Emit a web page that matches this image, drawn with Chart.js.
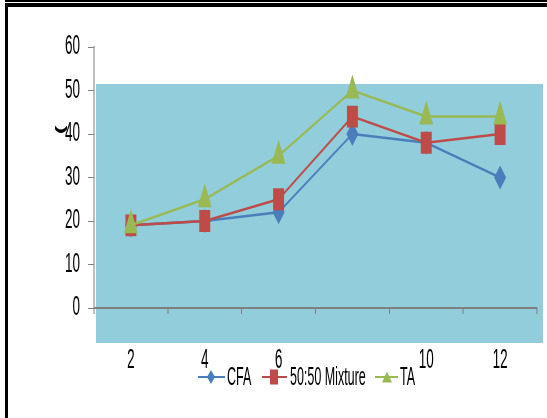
<!DOCTYPE html>
<html>
<head>
<meta charset="utf-8">
<script src="https://cdn.jsdelivr.net/npm/chart.js@4/dist/chart.umd.min.js"></script>
<style>
  html, body { margin: 0; padding: 0; background: #fff; }
  #frame { position: relative; width: 547px; height: 418px; overflow: hidden; background: #fff; }
  /* the chart is laid out twice as wide and squeezed back horizontally */
  #wrap { position: absolute; left: 0; top: 0; width: 1094px; height: 418px; transform: scaleX(0.5); transform-origin: 0 0; }
  .rule { position: absolute; background: #000; }
</style>
</head>
<body>
<div id="frame">
  <div id="wrap"><canvas id="c" width="1094" height="418"></canvas></div>
  <div class="rule" style="left:5px;top:0;width:542px;height:2px"></div>
  <div class="rule" style="left:5px;top:3px;width:542px;height:4px"></div>
  <div class="rule" style="left:5px;top:3px;width:3px;height:415px"></div>
</div>
<script>
// x categories
const weeks = ['2', '4', '6', '8', '10', '12'];
// series values
const cfa = [19, 20, 22, 40, 38, 30];
const mixture = [19, 20, 25, 44, 38, 40];
const ta = [19, 25, 35, 50, 44, 44];
// y axis range
const yMin = 0, yMax = 60, yStep = 10;
const yTitle = '(';

const SX = 0.5;               // horizontal squeeze applied by CSS
const px = v => v / SX;       // screen x -> canvas x

const colors = { cfa: '#4A7EBB', mix: '#BE4B48', ta: '#98B954' };
const FONT = "'Liberation Sans', Arial, sans-serif";

Chart.defaults.font.family = FONT;

const backdrop = {
  id: 'backdrop',
  beforeDraw(chart) {
    const { ctx, chartArea: a, scales: { y } } = chart;
    const top = y.getPixelForValue(51.5);
    ctx.save();
    ctx.fillStyle = '#92CDDC';
    ctx.fillRect(a.left + 4, top, (a.right + 12) - (a.left + 4), (a.bottom + 35) - top);
    ctx.restore();
  }
};

function marker(ctx, style, x, y, w, h, color) {
  ctx.fillStyle = color;
  ctx.beginPath();
  if (style === 'rect') {
    ctx.rect(x - w / 2, y - h / 2, w, h);
  } else if (style === 'rectRot') {
    ctx.moveTo(x, y - h / 2); ctx.lineTo(x + w / 2, y);
    ctx.lineTo(x, y + h / 2); ctx.lineTo(x - w / 2, y);
    ctx.closePath();
  } else {
    ctx.moveTo(x, y - h / 2); ctx.lineTo(x + w / 2, y + h / 2);
    ctx.lineTo(x - w / 2, y + h / 2); ctx.closePath();
  }
  ctx.fill();
}

const keyLegend = {
  id: 'keyLegend',
  afterDraw(chart) {
    const { ctx } = chart;
    const y = 377;
    const items = [
      { i: 0, from: 198, to: 225, at: 211, text: 227, w: 8, h: 14 },
      { i: 1, from: 262, to: 287, at: 274, text: 290, w: 8, h: 15 },
      { i: 2, from: 375, to: 398, at: 387, text: 400, w: 10, h: 11 }
    ];
    ctx.save();
    ctx.font = "25px " + FONT;
    ctx.textBaseline = 'middle';
    items.forEach(it => {
      const ds = chart.data.datasets[it.i];
      const tw = ctx.measureText(ds.label).width;
      ctx.fillStyle = '#fff';
      ctx.fillRect(px(it.text) - 2, 345, tw + 4, 46);
      ctx.strokeStyle = ds.borderColor;
      ctx.lineWidth = 2;
      ctx.beginPath();
      ctx.moveTo(px(it.from), y); ctx.lineTo(px(it.to), y);
      ctx.stroke();
      marker(ctx, ds.pointStyle, px(it.at), y, px(it.w), it.h, ds.backgroundColor);
      ctx.fillStyle = '#000';
      ctx.fillText(ds.label, px(it.text), y + 1);
    });
    // y axis title
    ctx.translate(px(61), 130);
    ctx.rotate(-Math.PI / 2);
    ctx.font = "bold 26px " + FONT;
    ctx.textAlign = 'center';
    ctx.fillStyle = '#000';
    ctx.fillText(yTitle, 0, 0);
    ctx.restore();
  }
};

new Chart(document.getElementById('c'), {
  type: 'line',
  data: {
    labels: weeks,
    datasets: [
      { label: 'CFA', data: cfa, borderColor: colors.cfa, backgroundColor: colors.cfa,
        pointStyle: 'rectRot', pointRadius: 12, pointBorderWidth: 0, borderWidth: 2.5, order: 3 },
      { label: '50:50 Mixture', data: mixture, borderColor: colors.mix, backgroundColor: colors.mix,
        pointStyle: 'rect', pointRadius: 15.5, pointBorderWidth: 0, borderWidth: 2.5, order: 2 },
      { label: 'TA', data: ta, borderColor: colors.ta, backgroundColor: colors.ta,
        pointStyle: 'triangle', pointRadius: 16, pointBorderWidth: 0, borderWidth: 2.5, order: 1 }
    ]
  },
  options: {
    responsive: false,
    animation: false,
    devicePixelRatio: 1,
    layout: { padding: { top: 47, right: 20, left: 0, bottom: 0 } },
    plugins: { legend: { display: false }, tooltip: { enabled: false } },
    scales: {
      x: {
        offset: true,
        grid: { offset: true, drawOnChartArea: false, drawTicks: true, tickLength: 6, color: '#7f7f7f', lineWidth: 2 },
        border: { color: '#7f7f7f', width: 2 },
        ticks: { padding: 30, color: '#000', font: { size: 27 }, maxRotation: 0, autoSkip: false },
        afterFit(s) { s.height = 110; }
      },
      y: {
        min: yMin, max: yMax,
        ticks: { stepSize: yStep, padding: 16, color: '#000', font: { size: 27 } },
        grid: { drawOnChartArea: false, drawTicks: true, tickLength: 12, color: '#7f7f7f', lineWidth: 1 },
        border: { color: '#7f7f7f', width: 2 },
        afterFit(s) { s.width = 188; }
      }
    }
  },
  plugins: [backdrop, keyLegend]
});
</script>
</body>
</html>
